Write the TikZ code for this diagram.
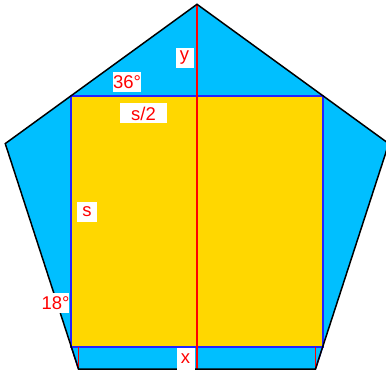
\documentclass[tikz,border=0pt]{standalone}
\usepackage{fontspec}
\setmainfont{Liberation Sans}
\definecolor{penblue}{RGB}{0,191,255}
\definecolor{sqgold}{RGB}{255,215,0}
\definecolor{edgeblue}{RGB}{35,35,255}
\begin{document}
\begin{tikzpicture}[
  lbl/.style={fill=white, text=red, font=\fontsize{10.5}{12}\selectfont,
    inner sep=0pt, minimum height=0.4cm, minimum width=0.36cm}
]
\useasboundingbox (-3.94,-0.04) rectangle (3.78,7.38);
% pentagon
\coordinate (bl) at (-2.37,0);
\coordinate (br) at (2.37,0);
\coordinate (rt) at (3.835,4.508);
\coordinate (tp) at (0,7.294);
\coordinate (lt) at (-3.835,4.508);
\fill[penblue] (bl) -- (br) -- (rt) -- (tp) -- (lt) -- cycle;
% square
\coordinate (sqbl) at (-2.513,0.441);
\coordinate (sqbr) at (2.513,0.441);
\coordinate (sqtr) at (2.513,5.468);
\coordinate (sqtl) at (-2.513,5.468);
\fill[sqgold] (sqbl) rectangle (sqtr);
\draw[edgeblue, line width=1.1pt] (sqbl) -- (sqbr) -- (sqtr) -- (sqtl) -- cycle;
\draw[edgeblue, line width=0.8pt] (sqbl) -- (bl) (sqbr) -- (br);
% red lines
\draw[red, line width=0.6pt] (tp) -- (0,0);
\draw[red, line width=0.6pt] (bl) -- (bl |- sqbl) (br) -- (br |- sqbr);
\draw[black, line width=0.85pt] (bl) -- (br) -- (rt) -- (tp) -- (lt) -- cycle;
% labels
\node[lbl] (ly) at (-0.25,6.22) {y};
\node[lbl, minimum width=0.56cm] (la) at (-1.40,5.74) {36°};
\node[lbl, minimum width=0.94cm] (lh) at (-1.07,5.11) {s/2};
\node[lbl, minimum width=0.4cm] (ls) at (-2.2,3.14) {s};
\node[lbl, minimum width=0.54cm] (lb) at (-2.83,1.32) {18°};
\node[lbl, minimum height=0.44cm] (lx) at (-0.23,0.2) {x};
\end{tikzpicture}
\end{document}
